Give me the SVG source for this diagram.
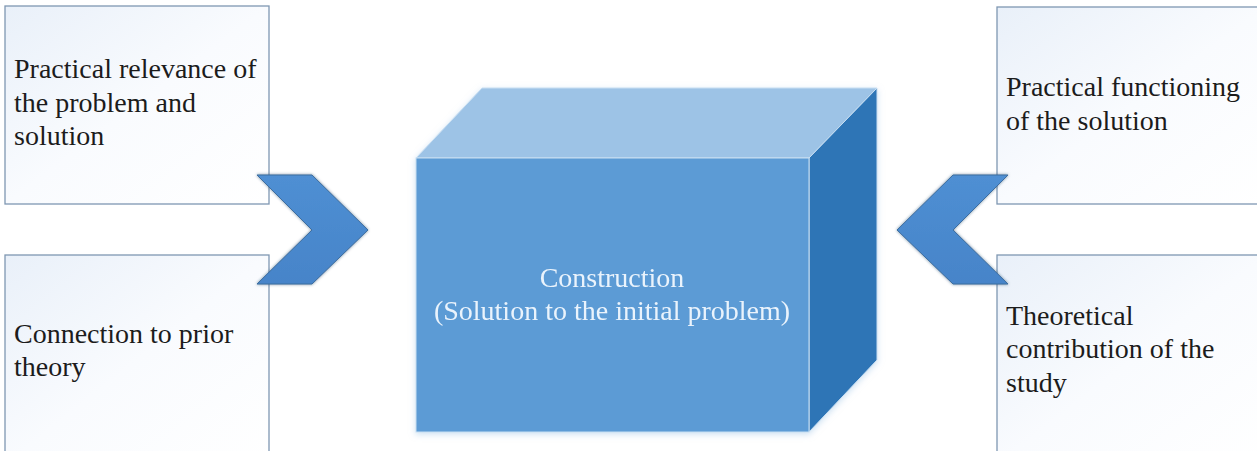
<svg xmlns="http://www.w3.org/2000/svg" width="1257" height="451" viewBox="0 0 1257 451">
<style>
.box{stroke:#7f97b2;stroke-width:1.3;fill:url(#boxg)}
.t{font-family:"Liberation Serif","Times New Roman",serif;font-size:28px;fill:#1c1c1c}
.ct{font-family:"Liberation Serif","Times New Roman",serif;font-size:28px;fill:#eaf3fc;text-anchor:middle}
.chev{fill:url(#chg);stroke:#3d6e9f;stroke-width:1}
</style>
<defs>
<linearGradient id="boxg" x1="0" y1="0" x2="1" y2="1">
<stop offset="0" stop-color="#e9f0f9"/>
<stop offset="0.5" stop-color="#f9fbfe"/>
<stop offset="1" stop-color="#ffffff"/>
</linearGradient>
<linearGradient id="chg" x1="0" y1="0" x2="0" y2="1">
<stop offset="0" stop-color="#4f8fd3"/>
<stop offset="1" stop-color="#4684c9"/>
</linearGradient>
<filter id="sh" x="-20%" y="-20%" width="140%" height="140%">
<feDropShadow dx="0" dy="0" stdDeviation="1.5" flood-color="#1f3f66" flood-opacity="0.6"/>
</filter>
<filter id="glow" x="-10%" y="-10%" width="120%" height="120%">
<feDropShadow dx="0" dy="2" stdDeviation="3" flood-color="#9dc3e6" flood-opacity="0.5"/>
</filter>
</defs>
<rect width="1257" height="451" fill="#ffffff"/>

<g id="box-practical-relevance">
<rect class="box" x="5" y="6" width="264" height="198"/>
<text class="t" x="14" y="78">Practical relevance of</text>
<text class="t" x="14" y="112">the problem and</text>
<text class="t" x="14" y="145">solution</text>
</g>
<g id="box-prior-theory">
<rect class="box" x="5" y="255" width="264" height="210"/>
<text class="t" x="14" y="343">Connection to prior</text>
<text class="t" x="14" y="376">theory</text>
</g>
<g id="box-practical-functioning">
<rect class="box" x="997" y="7" width="270" height="197"/>
<text class="t" x="1006" y="96">Practical functioning</text>
<text class="t" x="1006" y="130">of the solution</text>
</g>
<g id="box-theoretical">
<rect class="box" x="997" y="255" width="270" height="210"/>
<text class="t" x="1006" y="325">Theoretical</text>
<text class="t" x="1006" y="358">contribution of the</text>
<text class="t" x="1006" y="392">study</text>
</g>

<g id="cube" filter="url(#glow)">
<polygon points="416,158 482,88 877,88 809,158" fill="#9dc3e6" stroke="#c9dff2" stroke-width="1"/>
<polygon points="809,158 877,88 877,360 809,432" fill="#2e75b6" stroke="#c9dff2" stroke-width="1"/>
<rect x="416" y="158" width="393" height="274" fill="#5b9bd5" stroke="#c9dff2" stroke-width="1"/>
<text class="ct" x="612" y="287">Construction</text>
<text class="ct" x="612" y="320">(Solution to the initial problem)</text>
</g>

<g id="connectors">
<polygon class="chev" filter="url(#sh)" points="257,175 312,175 368,230 312,284 257,284 312,230"/>
<polygon class="chev" filter="url(#sh)" points="1008,175 953,175 897,230 953,284 1008,284 953,230"/>
</g>
</svg>
